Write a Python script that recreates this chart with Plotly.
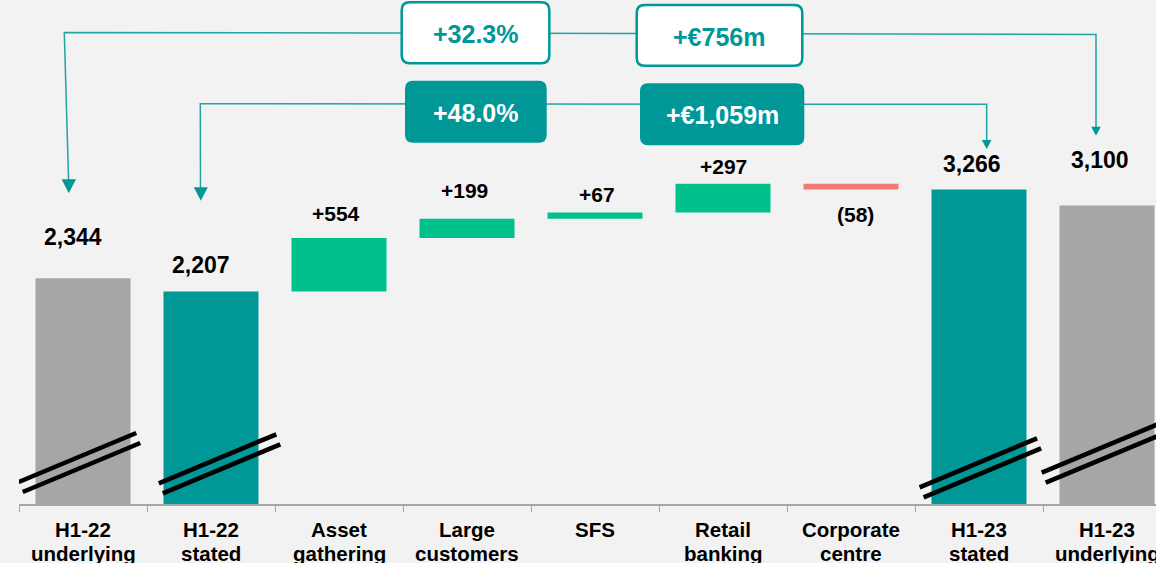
import plotly.graph_objects as go

# ---------------- data ----------------
CATEGORIES = ["H1-22<br>underlying", "H1-22<br>stated", "Asset<br>gathering",
              "Large<br>customers", "SFS", "Retail<br>banking",
              "Corporate<br>centre", "H1-23<br>stated", "H1-23<br>underlying"]
MEASURES = ["total", "total", "delta", "delta", "delta", "delta", "delta", "total", "total"]
VALUES = [2344, 2207, 554, 199, 67, 297, -58, 3266, 3100]
VALUE_LABELS = ["2,344", "2,207", "+554", "+199", "+67", "+297", "(58)", "3,266", "3,100"]
GROWTH_PCT = ["+32.3%", "+48.0%"]          # underlying, stated
GROWTH_ABS = ["+€756m", "+€1,059m"]        # underlying, stated

# ---------------- style ----------------
BG = "#f2f2f2"
GREY = "#a6a6a6"
TEAL = "#009797"
GREEN = "#00c18c"
RED = "#f47a78"
LINE_TEAL = "#22a3a3"
FONT = "Liberation Sans, Arial, sans-serif"
BAR_COLORS = [GREY, TEAL, GREEN, GREEN, GREEN, GREEN, RED, TEAL, GREY]

W, H = 1156, 563
ML, MB = 19, 59
PLOT_H = H - MB
SLOT = 128.0                      # px per category
YMAX = 5232.0
UPX = YMAX / PLOT_H               # data units per pixel
XMAX = -0.5 + (W - ML) / SLOT


def X(px):
    return (px - ML) / SLOT - 0.5


def Y(py):
    return (PLOT_H - py) * UPX


# ---------------- bars (waterfall bridge) ----------------
xs = list(range(len(CATEGORIES)))
bases, heights, ends = [], [], []
running = 0
for m, v in zip(MEASURES, VALUES):
    if m == "total":
        bases.append(0)
        heights.append(v)
        running = v
        ends.append(v)
    else:
        bases.append(running)
        heights.append(v)
        running += v
        ends.append(running)

fig = go.Figure()
fig.add_trace(go.Bar(x=xs, y=heights, base=bases, width=0.742,
                     marker=dict(color=BAR_COLORS, line=dict(width=0)),
                     hoverinfo="skip"))

# value labels
LABEL_DY = [41.7, 26, 25, 28, 18, 17, -25, 25, 45]
LABEL_DX = [-9.8, -9.6, -2.8, -2.3, 1.7, 0, 4, -7.3, -7.3]
annotations = []
for i, (lab, m, v) in enumerate(zip(VALUE_LABELS, MEASURES, VALUES)):
    y_end = ends[i]
    annotations.append(dict(
        x=i, y=y_end, xref="x", yref="y", text=lab, showarrow=False,
        xanchor="center", yanchor="middle", xshift=LABEL_DX[i], yshift=LABEL_DY[i],
        font=dict(family=FONT, size=23 if m == "total" else 21, color="#000000",
                  weight="bold")))

# category labels (two lines)
for i, cat in enumerate(CATEGORIES):
    for j, line in enumerate(cat.split("<br>")):
        annotations.append(dict(
            x=i, y=0, xref="x", yref="y", text=line, showarrow=False,
            xanchor="center", yanchor="middle", yshift=-25 - 24 * j,
            font=dict(family=FONT, size=20.5, color="#000000", weight="bold")))

shapes = []

# axis break marks
BREAK_BARS = [0, 1, 7, 8]
BREAK_DX = [-0.502, -0.408, -0.464, -0.51]
BREAK_Y0 = [22, 20.7, 16.7, 31.3]        # px above axis
for b, dx, y0 in zip(BREAK_BARS, BREAK_DX, BREAK_Y0):
    for k in range(2):
        xa = b + dx + k * 4 / SLOT
        ya = (y0 - k * 10) * UPX
        shapes.append(dict(type="line", xref="x", yref="y",
                           x0=xa, y0=ya, x1=xa + 117.5 / SLOT, y1=ya + 49 * UPX,
                           line=dict(color="#000000", width=4.6), layer="above"))


def path(points, close=False):
    s = "M " + " L ".join(f"{X(px):.5f},{Y(py):.3f}" for px, py in points)
    return s + (" Z" if close else "")


# connector lines
shapes.append(dict(type="path", xref="x", yref="y", layer="above",
                   path=path([(68.6, 181), (64.3, 32.5), (1096, 34.5), (1096, 128)]),
                   line=dict(color=LINE_TEAL, width=1.5), fillcolor="rgba(0,0,0,0)"))
shapes.append(dict(type="path", xref="x", yref="y", layer="above",
                   path=path([(200.5, 189), (200.3, 103.8), (986.7, 104.3), (986.7, 141)]),
                   line=dict(color=LINE_TEAL, width=1.5), fillcolor="rgba(0,0,0,0)"))

# arrow heads
for tip_x, tip_y, base_y, hw in [(68.8, 193.3, 179.3, 7.2), (200.8, 200.7, 187.3, 7.0),
                                  (1096, 135.7, 126.7, 4.8), (986.7, 149, 140, 4.8)]:
    shapes.append(dict(type="path", xref="x", yref="y", layer="above",
                       path=path([(tip_x - hw, base_y), (tip_x + hw, base_y), (tip_x, tip_y)], True),
                       line=dict(width=0), fillcolor=TEAL))


def rrect(x0, x1, y0, y1, r=8):
    # pixel box -> rounded rectangle path in data units
    rx, ry = r / SLOT, r * UPX
    L, R, T, B = X(x0), X(x1), Y(y0), Y(y1)
    return (f"M {L+rx},{T} L {R-rx},{T} Q {R},{T} {R},{T-ry} L {R},{B+ry} "
            f"Q {R},{B} {R-rx},{B} L {L+rx},{B} Q {L},{B} {L},{B+ry} "
            f"L {L},{T-ry} Q {L},{T} {L+rx},{T} Z")


BOXES = [  # (x0, x1, y0, y1, filled, text, text_cx, text_cy)
    (401.7, 549.3, 2.3, 63.3, False, GROWTH_PCT[0], 475.5, 34.3),
    (636.7, 802.3, 5.0, 65.7, False, GROWTH_ABS[0], 718.8, 36.7),
    (405.0, 546.7, 80.7, 142.7, True, GROWTH_PCT[1], 475.5, 113.3),
    (640.0, 804.3, 83.3, 145.3, True, GROWTH_ABS[1], 722.0, 115.3),
]
for x0, x1, y0, y1, filled, txt, tcx, tcy in BOXES:
    shapes.append(dict(type="path", xref="x", yref="y", layer="above",
                       path=rrect(x0, x1, y0, y1),
                       fillcolor=TEAL if filled else "#ffffff",
                       line=dict(color=TEAL, width=0 if filled else 2.5)))
    annotations.append(dict(
        x=X(tcx), y=Y(tcy), xref="x", yref="y", text=txt, showarrow=False,
        xanchor="center", yanchor="middle",
        font=dict(family=FONT, size=25, color="#ffffff" if filled else TEAL,
                  weight="bold")))

fig.update_layout(
    width=W, height=H, autosize=False,
    margin=dict(l=ML, r=0, t=0, b=MB, pad=0),
    paper_bgcolor=BG, plot_bgcolor=BG, showlegend=False,
    xaxis=dict(range=[-0.5, XMAX], showgrid=False, zeroline=False,
               showline=True, linecolor=GREY, linewidth=1.5,
               tickmode="array", tickvals=[k - 0.5 for k in range(len(CATEGORIES) + 1)],
               ticks="outside", ticklen=6, tickcolor=GREY, tickwidth=1.3,
               showticklabels=False, fixedrange=True),
    yaxis=dict(range=[0, YMAX], visible=False, fixedrange=True),
    shapes=shapes, annotations=annotations,
)

fig.write_html("out.html", config={"displayModeBar": False},
               post_script="document.body.style.margin='0';document.body.style.overflow='hidden';")
